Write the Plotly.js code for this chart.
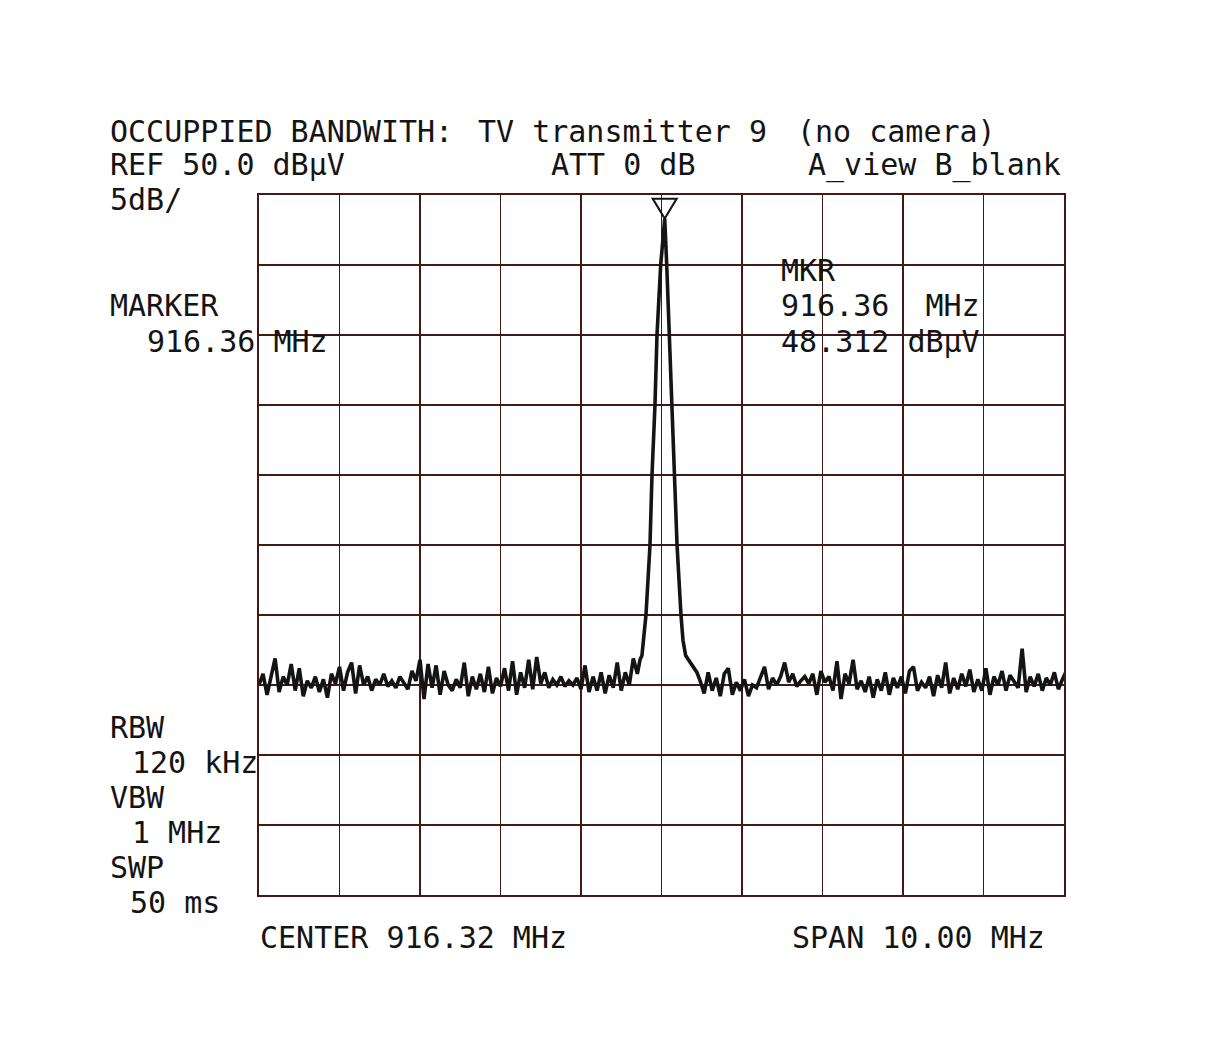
<!DOCTYPE html>
<html>
<head>
<meta charset="utf-8">
<script src="https://cdn.plot.ly/plotly-3.0.1.min.js"></script>
<style>html,body{margin:0;padding:0;background:#fff;}#chart{width:1227px;height:1039px;}</style>
</head>
<body>
<div id="chart"></div>
<script>
// ---- Instrument settings ----
const centerMHz = 916.32;
const spanMHz = 10.00;
const refLevel = 50.0;      // dBµV
const dbPerDiv = 5;
const markerFreq = 916.36;  // MHz
const markerLevel = 48.312; // dBµV

// ---- Trace: noise floor left of the carrier (sweep step 0.05 MHz from 911.32 MHz) ----
const leftStartMHz = 911.32;
const leftNoise = [
  15.0, 15.8, 14.3, 15.5, 16.9, 14.5, 15.6, 15.0, 16.5, 14.6,
  16.2, 14.2, 15.3, 14.8, 15.6, 14.5, 15.4, 14.1, 15.8, 15.1,
  16.3, 14.6, 15.9, 16.6, 14.4, 16.4, 15.0, 15.6, 14.6, 15.4,
  15.0, 15.8, 14.9, 15.3, 14.8, 15.6, 15.2, 14.7, 16.0, 15.3,
  16.8, 14.0, 16.5, 14.8, 16.4, 14.3, 16.0, 15.0, 14.6, 15.4,
  14.8, 16.6, 14.2, 15.6, 14.7, 15.8, 14.5, 16.3, 14.4, 15.5,
  14.9, 16.2, 14.6, 16.7, 14.3, 15.9, 14.8, 16.8, 14.7, 17.0,
  15.1, 15.9, 14.8, 15.4, 15.0, 15.6, 14.9, 15.3, 15.0, 15.5,
  14.7, 16.4, 14.5, 15.6, 14.6, 15.9, 14.4, 15.7, 14.8, 16.6,
  14.6, 15.9, 15.0, 16.9, 15.8
];

// ---- Trace: carrier peak ----
const peakFreq  = [916.053, 916.077, 916.100, 916.127, 916.177, 916.202, 916.239, 916.264, 916.310, 916.360,
                   916.385, 916.418, 916.450, 916.475, 916.513, 916.562, 916.587, 916.620, 916.674, 916.760];
const peakLevel = [16.8, 17.1, 18.2, 20.0, 25.0, 30.0, 35.0, 40.0, 45.0, 48.312,
                   45.0, 40.0, 35.0, 30.0, 25.0, 20.0, 18.2, 17.1, 16.6, 15.9];

// ---- Trace: noise floor right of the carrier (sweep step 0.05 MHz from 916.80 MHz) ----
const rightStartMHz = 916.80;
const rightNoise = [
  15.3, 14.4, 15.9, 14.6, 15.5, 14.2, 15.8, 16.2, 14.3, 15.2,
  14.6, 15.4, 14.2, 15.0, 14.8, 15.6, 16.3, 14.7, 15.5, 15.0,
  15.6, 16.6, 15.2, 15.8, 14.9, 15.3, 15.6, 15.1, 15.8, 14.3,
  16.0, 15.2, 15.6, 14.6, 16.7, 14.0, 15.8, 15.1, 16.8, 14.7,
  15.3, 14.5, 15.6, 14.1, 15.4, 14.6, 15.9, 14.3, 15.5, 14.8,
  15.6, 14.4, 16.0, 16.3, 14.6, 15.2, 14.8, 15.6, 14.2, 15.7,
  14.8, 16.6, 14.4, 15.5, 14.7, 15.8, 14.9, 16.1, 14.5, 15.4,
  14.6, 16.2, 14.3, 15.6, 15.0, 16.0, 14.6, 15.7, 15.2, 14.8,
  17.6, 14.5, 15.6, 14.9, 15.8, 14.6, 15.5, 15.0, 15.9, 14.7,
  15.4, 16.0
];
const sweepStepMHz = 0.05;

// ---- Text lines ----
const titleText = ["OCCUPPIED BANDWITH:", "TV transmitter 9", "(no camera)"];
const refText = "REF 50.0 dBµV";
const attText = "ATT 0 dB";
const viewText = "A_view B_blank";
const scaleText = "5dB/";
const markerLabel = ["MARKER", "916.36 MHz"];
const mkrLabel = ["MKR", "916.36  MHz", "48.312 dBµV"];
const bwLabels = ["RBW", "120 kHz", "VBW", "1 MHz", "SWP", "50 ms"];
const centerText = "CENTER 916.32 MHz";
const spanText = "SPAN 10.00 MHz";

// ---- Build trace ----
const xs = [], ys = [];
leftNoise.forEach((v, i) => { xs.push(leftStartMHz + i * sweepStepMHz); ys.push(v); });
peakFreq.forEach((f, i) => { xs.push(f); ys.push(peakLevel[i]); });
rightNoise.forEach((v, i) => { xs.push(rightStartMHz + i * sweepStepMHz); ys.push(v); });

// ---- Layout geometry (pixels) ----
const W = 1227, H = 1039;
const L = 259, R = 1064, T = 195, B = 895;
const px = x => (x - L) / (R - L);
const py = y => (B - y) / (B - T);

const FONT = "DejaVu Sans Mono";
const TXT = "#141414";
function ann(text, x, y) {
  return { text: text, xref: "paper", yref: "paper", x: px(x - 2), y: py(y),
           xanchor: "left", yanchor: "middle", showarrow: false,
           font: { family: FONT, size: 30, color: TXT } };
}

const annotations = [
  ann(titleText[0], 110, 131), ann(titleText[1], 478, 131), ann(titleText[2], 797, 131),
  ann(refText, 110, 165), ann(attText, 551, 165), ann(viewText, 808, 165),
  ann(scaleText, 110, 200),
  ann(markerLabel[0], 110, 305), ann(markerLabel[1], 147, 341),
  ann(mkrLabel[0], 781, 270), ann(mkrLabel[1], 781, 305), ann(mkrLabel[2], 781, 341),
  ann(bwLabels[0], 110, 727), ann(bwLabels[1], 132, 762),
  ann(bwLabels[2], 110, 797), ann(bwLabels[3], 132, 832),
  ann(bwLabels[4], 110, 867), ann(bwLabels[5], 130, 902),
  ann(centerText, 260, 937), ann(spanText, 792, 937)
];

const GRID = "#421818";
const fStart = centerMHz - spanMHz / 2, fStop = centerMHz + spanMHz / 2;

const data = [{
  type: "scatter", mode: "lines", x: xs, y: ys,
  line: { color: "#141414", width: 3.6 },
  hoverinfo: "skip"
}];

const layout = {
  width: W, height: H,
  margin: { l: L, r: W - R, t: T, b: H - B, pad: 0 },
  paper_bgcolor: "#ffffff", plot_bgcolor: "#ffffff",
  showlegend: false,
  xaxis: {
    range: [fStart, fStop], tick0: fStart, dtick: spanMHz / 10,
    showgrid: true, gridcolor: GRID, gridwidth: 1.3,
    showline: true, linecolor: GRID, linewidth: 1.6, mirror: true,
    zeroline: false, showticklabels: false, ticks: ""
  },
  yaxis: {
    range: [refLevel - 10 * dbPerDiv, refLevel], tick0: 0, dtick: dbPerDiv,
    showgrid: true, gridcolor: GRID, gridwidth: 1.3,
    showline: true, linecolor: GRID, linewidth: 1.6, mirror: true,
    zeroline: false, showticklabels: false, ticks: ""
  },
  shapes: [{
    type: "path", xref: "x", yref: "y",
    xsizemode: "pixel", ysizemode: "pixel",
    xanchor: markerFreq, yanchor: markerLevel,
    path: "M -12,20 L 12,20 L 0,0 Z",
    line: { color: "#141414", width: 2 }, fillcolor: "rgba(0,0,0,0)"
  }],
  annotations: annotations
};

Plotly.newPlot("chart", data, layout, { staticPlot: true, displayModeBar: false });
</script>
</body>
</html>
